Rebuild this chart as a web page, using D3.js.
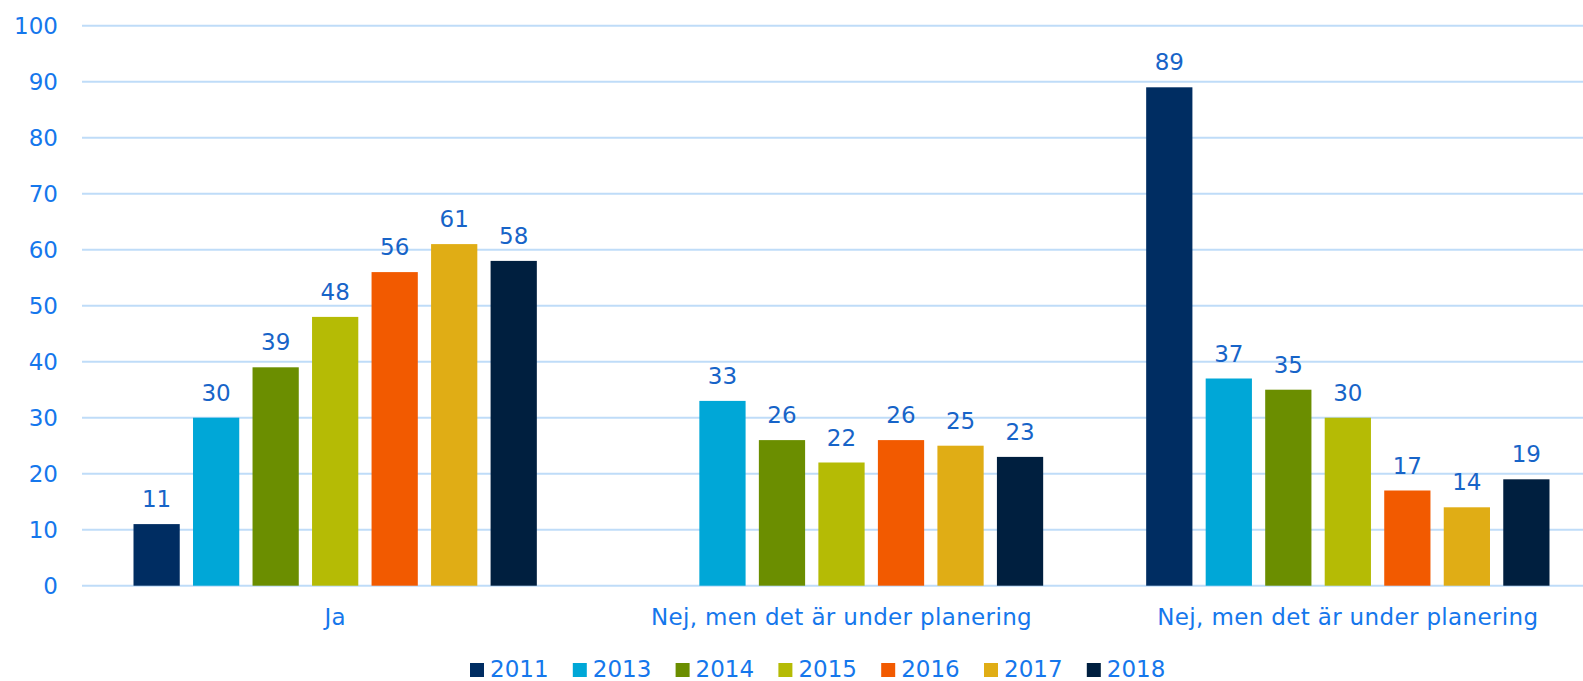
<!DOCTYPE html>
<html>
<head>
<meta charset="utf-8">
<script src="https://cdn.jsdelivr.net/npm/d3@7"></script>
<style>
  body { margin: 0; background: #fff; }
  svg { display: block; }
</style>
</head>
<body>
<div id="chart"></div>
<script>
// data
var categories = ["Ja", "Nej, men det är under planering", "Nej, men det är under planering "];
var years = ["2011", "2013", "2014", "2015", "2016", "2017", "2018"];
var values = {
  "2011": [11, null, 89],
  "2013": [30, 33, 37],
  "2014": [39, 26, 35],
  "2015": [48, 22, 30],
  "2016": [56, 26, 17],
  "2017": [61, 25, 14],
  "2018": [58, 23, 19]
};
var yTicks = [0, 10, 20, 30, 40, 50, 60, 70, 80, 90, 100];
var colors = ["#002d62", "#00a7d7", "#6b8e00", "#b5bb05", "#f25a00", "#e0ad15", "#001f3f"];

var W = 1583, H = 681;
var font = "'DejaVu Sans', Verdana, sans-serif";
var tickColor = "#1577ec", labelColor = "#1764c8";

var svg = d3.select("#chart").append("svg").attr("width", W).attr("height", H);

var x0 = d3.scaleBand().domain(categories).range([82, 1601]);
var y = d3.scaleLinear().domain([0, 100]).range([585.7, 25.7]);
var color = d3.scaleOrdinal().domain(years).range(colors);

// gridlines
svg.append("g").selectAll("line").data(yTicks).enter().append("line")
  .attr("x1", 82).attr("x2", W)
  .attr("y1", function (d) { return y(d); })
  .attr("y2", function (d) { return y(d); })
  .attr("stroke", "#bfdcf8").attr("stroke-width", 2);

// y axis labels
var yAxis = svg.append("g").attr("transform", "translate(58,0)")
  .call(d3.axisLeft(y).tickValues(yTicks).tickSize(0).tickPadding(0));
yAxis.select(".domain").remove();
yAxis.selectAll("text").attr("font-family", font).attr("font-size", 23)
  .attr("fill", tickColor).attr("text-anchor", "end");

// bars, grouped by category
var groups = svg.append("g").selectAll("g").data(categories).enter().append("g")
  .attr("transform", function (c) { return "translate(" + x0(c) + ",0)"; });

var x1 = d3.scaleBand().domain(years)
  .range([51.5, x0.bandwidth() - 51.5]).paddingInner(0.223);

var cells = groups.selectAll("g").data(function (c, i) {
  return years.map(function (yr) { return { year: yr, v: values[yr][i] }; })
    .filter(function (d) { return d.v != null; });
}).enter();

cells.append("rect")
  .attr("x", function (d) { return x1(d.year); })
  .attr("y", function (d) { return y(d.v); })
  .attr("width", x1.bandwidth())
  .attr("height", function (d) { return y(0) - y(d.v); })
  .attr("fill", function (d) { return color(d.year); });

cells.append("text")
  .attr("x", function (d) { return x1(d.year) + x1.bandwidth() / 2; })
  .attr("y", function (d) { return y(d.v) - 17; })
  .attr("text-anchor", "middle")
  .attr("font-family", font).attr("font-size", 23).attr("fill", labelColor)
  .text(function (d) { return d.v; });

// category labels
svg.append("g").selectAll("text").data(categories).enter().append("text")
  .attr("x", function (c) { return x0(c) + x0.bandwidth() / 2; })
  .attr("y", 625)
  .attr("text-anchor", "middle")
  .attr("letter-spacing", 0.35)
  .attr("font-family", font).attr("font-size", 23).attr("fill", tickColor)
  .text(function (c) { return c.trim(); });

// legend
var legend = svg.append("g").selectAll("g").data(years).enter().append("g")
  .attr("transform", function (d, i) { return "translate(" + (470 + i * 102.8) + ",0)"; });
legend.append("rect").attr("x", 0).attr("y", 663).attr("width", 14).attr("height", 14)
  .attr("fill", function (d) { return color(d); });
legend.append("text").attr("x", 20).attr("y", 677)
  .attr("font-family", font).attr("font-size", 23).attr("fill", tickColor)
  .text(function (d) { return d; });
</script>
</body>
</html>
